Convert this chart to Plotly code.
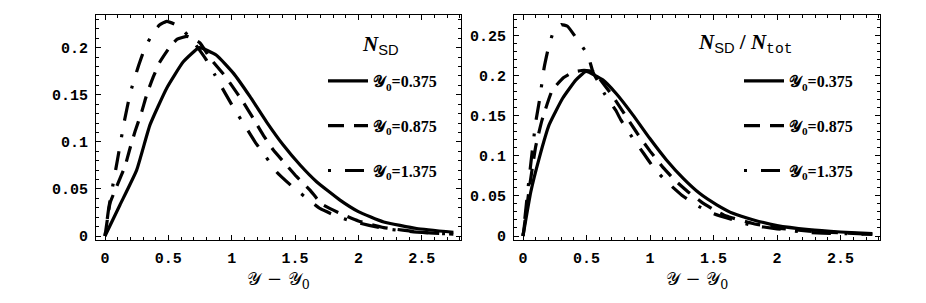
import plotly.graph_objects as go

# ---------------- data ----------------
series_names = ["𝒴<sub>0</sub>=0.375", "𝒴<sub>0</sub>=0.875", "𝒴<sub>0</sub>=1.375"]

# Left panel: N_SD
x_sol_L = [0, 0.118, 0.25, 0.355, 0.487, 0.618, 0.745, 0.88, 1.013, 1.145, 1.276, 1.407, 1.54, 1.67, 1.855, 2.0, 2.2, 2.46, 2.75]
y_sol_L = [0, 0.033, 0.070, 0.118, 0.157, 0.185, 0.200, 0.192, 0.173, 0.148, 0.121, 0.0966, 0.0754, 0.0577, 0.0382, 0.026, 0.015, 0.008, 0.004]

x_dsh_L = [0, 0.04, 0.09, 0.158, 0.197, 0.237, 0.29, 0.329, 0.381, 0.434, 0.513, 0.57, 0.65, 0.75, 0.829, 0.947, 1.0, 1.092, 1.17, 1.25, 1.329, 1.42, 1.513, 1.618, 1.71, 1.84, 2.0, 2.2, 2.5, 2.75]
y_dsh_L = [0, 0.035, 0.052, 0.074, 0.093, 0.111, 0.132, 0.150, 0.169, 0.185, 0.201, 0.209, 0.212, 0.205, 0.189, 0.170, 0.160, 0.142, 0.125, 0.107, 0.0913, 0.0772, 0.063, 0.0488, 0.034, 0.025, 0.016, 0.009, 0.004, 0.002]

x_dd_L = [0, 0.03, 0.071, 0.1, 0.15, 0.2, 0.258, 0.316, 0.381, 0.43, 0.487, 0.55, 0.62, 0.7, 0.797, 0.868, 0.947, 1.02, 1.105, 1.184, 1.268, 1.355, 1.47, 1.578, 1.7, 1.85, 1.97, 2.2, 2.42, 2.75]
y_dd_L = [0, 0.03, 0.0605, 0.082, 0.12, 0.152, 0.178, 0.2, 0.216, 0.224, 0.228, 0.225, 0.218, 0.206, 0.1876, 0.171, 0.152, 0.135, 0.117, 0.1, 0.0845, 0.068, 0.0535, 0.0417, 0.029, 0.02, 0.015, 0.008, 0.0046, 0.002]

# Right panel: N_SD / N_tot
x_sol_R = [0, 0.061, 0.127, 0.206, 0.312, 0.417, 0.496, 0.628, 0.733, 0.866, 0.997, 1.129, 1.261, 1.392, 1.525, 1.657, 1.815, 2.0, 2.25, 2.5, 2.75]
y_sol_R = [0, 0.055, 0.097, 0.139, 0.172, 0.195, 0.2054, 0.195, 0.178, 0.151, 0.122, 0.095, 0.072, 0.053, 0.039, 0.028, 0.020, 0.013, 0.008, 0.005, 0.003]

x_dsh_R = [0, 0.05, 0.1, 0.15, 0.23, 0.32, 0.4, 0.48, 0.56, 0.6, 0.7, 0.8, 0.9, 1.0, 1.1, 1.2, 1.3, 1.4, 1.5, 1.6, 1.8, 2.0, 2.25, 2.5, 2.75]
y_dsh_R = [0, 0.06, 0.112, 0.145, 0.182, 0.198, 0.205, 0.207, 0.205, 0.197, 0.176, 0.152, 0.128, 0.106, 0.086, 0.069, 0.055, 0.043, 0.033, 0.025, 0.016, 0.01, 0.006, 0.004, 0.002]

x_dd_R = [0, 0.048, 0.1, 0.13, 0.166, 0.2, 0.24, 0.3, 0.35, 0.42, 0.51, 0.55, 0.6, 0.64, 0.73, 0.77, 0.86, 0.95, 1.03, 1.13, 1.25, 1.37, 1.5, 1.79, 2.0, 2.22, 2.5, 2.75]
y_dd_R = [0, 0.072, 0.142, 0.17, 0.21, 0.235, 0.255, 0.264, 0.262, 0.247, 0.226, 0.205, 0.19, 0.178, 0.157, 0.145, 0.123, 0.103, 0.085, 0.068, 0.051, 0.038, 0.028, 0.0137, 0.009, 0.0046, 0.003, 0.002]

panel_titles = [
    "<b><i>N</i></b><sub><span style='font-family:Liberation Sans'>SD</span></sub>",
    "<b><i>N</i></b><sub><span style='font-family:Liberation Sans'>SD</span></sub>"
    "<b> / </b><b><i>N</i></b><sub><span style='font-family:Liberation Mono'>tot</span></sub>",
]
x_title = "𝒴 − 𝒴<sub>0</sub>"

# ---------------- styles ----------------
dashes = ["solid", "16px,10px", "3px,14px,19px,14px"]
LW = 3.2

fig = go.Figure()
left = [(x_sol_L, y_sol_L), (x_dsh_L, y_dsh_L), (x_dd_L, y_dd_L)]
right = [(x_sol_R, y_sol_R), (x_dsh_R, y_dsh_R), (x_dd_R, y_dd_R)]
for i, (xs, ys) in enumerate(left):
    fig.add_trace(go.Scatter(x=xs, y=ys, mode="lines", name=series_names[i],
                             line=dict(color="black", width=LW, dash=dashes[i], shape="spline", smoothing=0.4),
                             xaxis="x", yaxis="y", legend="legend", legendgroup=f"L{i}"))
for i, (xs, ys) in enumerate(right):
    fig.add_trace(go.Scatter(x=xs, y=ys, mode="lines", name=series_names[i],
                             line=dict(color="black", width=LW, dash=dashes[i], shape="spline", smoothing=0.4),
                             xaxis="x2", yaxis="y2", legend="legend2", legendgroup=f"R{i}"))

tickfont = dict(family="Liberation Mono", size=15, color="black", weight="bold")
common_x = dict(range=[-0.071, 2.81], tick0=0, dtick=0.5, ticks="inside", ticklen=5, tickwidth=1,
                tickcolor="black", showline=True, linecolor="black", linewidth=1, mirror="allticks",
                showgrid=False, zeroline=False, tickfont=tickfont, ticklabelstandoff=4, automargin=False,
                minor=dict(dtick=0.1, ticks="inside", ticklen=3, tickcolor="black", showgrid=False),
                title=dict(text=x_title, font=dict(family="DejaVu Serif", size=18, color="black"), standoff=2))
common_y = dict(tick0=0, dtick=0.05, ticks="inside", ticklen=5, tickwidth=1, tickcolor="black",
                showline=True, linecolor="black", linewidth=1, mirror="allticks", showgrid=False,
                zeroline=False, tickfont=tickfont, ticklabelstandoff=4, automargin=False,
                minor=dict(dtick=0.01, ticks="inside", ticklen=3, tickcolor="black", showgrid=False))

legend_common = dict(font=dict(family="Liberation Serif", size=16, color="black", weight="bold"),
                     bgcolor="rgba(0,0,0,0)", tracegroupgap=21, itemwidth=40,
                     xanchor="left", yanchor="top", orientation="v")

fig.update_layout(
    width=926, height=303,
    margin=dict(l=0, r=0, t=15, b=63, autoexpand=False),
    paper_bgcolor="white", plot_bgcolor="white",
    xaxis=dict(domain=[96/926, 461/926], anchor="y", **common_x),
    yaxis=dict(domain=[0, 1], anchor="x", range=[-0.0042, 0.2347], **common_y),
    xaxis2=dict(domain=[514/926, 880/926], anchor="y2", **common_x),
    yaxis2=dict(domain=[0, 1], anchor="x2", range=[-0.005, 0.276], **common_y),
    legend=dict(x=323/926, y=(240-64)/225, **legend_common),
    legend2=dict(x=739/926, y=(240-64)/225, **legend_common),
    showlegend=True,
    annotations=[
        dict(text=panel_titles[0], xref="paper", yref="paper", x=380/926, y=(240-45)/225,
             yanchor="middle", showarrow=False, font=dict(family="Liberation Serif", size=21, color="black")),
        dict(text=panel_titles[1], xref="paper", yref="paper", x=795/926, y=(240-43)/225,
             yanchor="middle", showarrow=False, font=dict(family="Liberation Serif", size=21, color="black")),
    ],
)

fig.write_html("out.html", post_script="document.body.style.margin='0';",
               config={"displayModeBar": False})
